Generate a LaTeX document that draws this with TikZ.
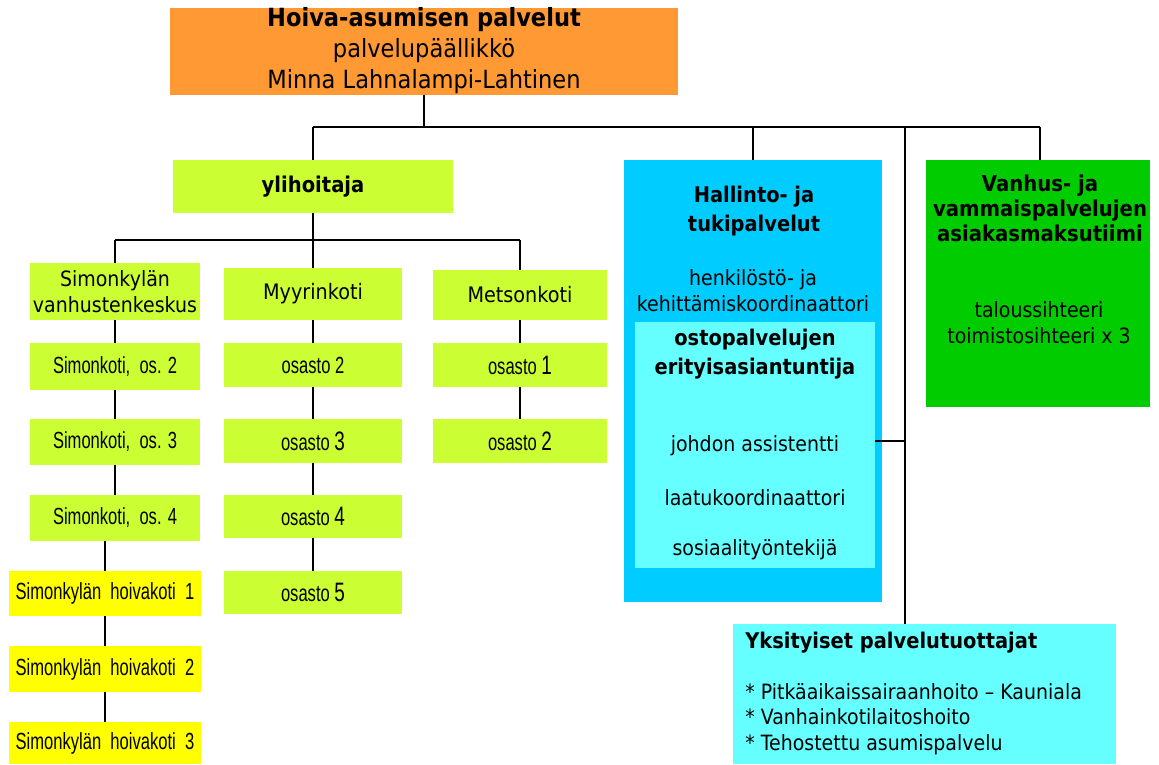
\documentclass[tikz,border=0pt]{standalone}
\usepackage{fontspec}
\newfontfamily\tah[FakeStretch=0.9]{DejaVu Sans}
\newfontfamily\nar[FakeStretch=0.71]{Liberation Sans}
\definecolor{orng}{HTML}{FF9933}
\definecolor{lime}{HTML}{CCFF33}
\definecolor{yelw}{HTML}{FFFF00}
\definecolor{sky}{HTML}{00CCFF}
\definecolor{aqua}{HTML}{66FFFF}
\definecolor{grn}{HTML}{00CC00}
\newcommand\pbox[7]{\node[#2, anchor=north west, minimum width={(#5-#3)*0.75pt}, minimum height={(#6-#4)*0.75pt}] (#1) at (#3,#4) {#7};}
\tikzset{
  bx/.style={inner sep=0pt, outer sep=0pt, draw=none, align=center},
  limebox/.style={bx, fill=lime},
  yelbox/.style={bx, fill=yelw},
  conn/.style={draw=black, line width=1.1pt},
  tx/.style={inner sep=0pt, align=center, font=\tah\fontsize{15.8}{19.5}\selectfont},
  txb/.style={tx, font=\tah\bfseries\fontsize{16.2}{21.7}\selectfont},
  nr/.style={font=\nar\fontsize{17.5}{18}\selectfont},
}
\newcommand\dg[1]{{\fontsize{20}{18}\selectfont #1}}
\begin{document}
\begin{tikzpicture}[x=0.75pt,y=-0.75pt]
\useasboundingbox (0,0) rectangle (1159,764);
% top box
\pbox{top}{bx, fill=orng}{170}{8}{678}{95}{}
\node[txb, font=\tah\bfseries\fontsize{18.8}{22}\selectfont] (t1) at (424,20) {Hoiva-asumisen palvelut};
\node[tx, font=\tah\fontsize{18.8}{22}\selectfont] (t2) at (424,51) {palvelupäällikkö};
\node[tx, font=\tah\fontsize{18.8}{22}\selectfont] (t3) at (424,82) {Minna Lahnalampi-Lahtinen};
% ylihoitaja
\pbox{yli}{limebox, font=\tah\bfseries\fontsize{16.3}{20}\selectfont}{173}{160}{453}{213}{ylihoitaja}
% row 2
\pbox{sim}{limebox, font=\tah\fontsize{15.8}{19.5}\selectfont}{30}{263}{200}{320}{Simonkylän\\vanhustenkeskus}
\pbox{myy}{limebox, font=\tah\fontsize{16}{19.5}\selectfont}{224}{268}{402}{320}{Myyrinkoti}
\pbox{met}{limebox, font=\tah\fontsize{16}{19.5}\selectfont}{433}{270}{607}{320}{Metsonkoti}
% Simonkoti column
\pbox{sk2}{limebox, nr}{30}{343}{200}{390}{Simonkoti,\ \ os. 2}
\pbox{sk3}{limebox, nr}{30}{419}{200}{465}{Simonkoti,\ \ os. 3}
\pbox{sk4}{limebox, nr}{30}{495}{200}{541}{Simonkoti,\ \ os. 4}
\pbox{hk1}{yelbox, nr}{9}{571}{201}{616}{Simonkylän\ \ hoivakoti\ \ 1}
\pbox{hk2}{yelbox, nr}{9}{646}{201}{692}{Simonkylän\ \ hoivakoti\ \ 2}
\pbox{hk3}{yelbox, nr}{9}{722}{201}{764}{Simonkylän\ \ hoivakoti\ \ 3}
% Myyrinkoti column
\pbox{my2}{limebox, nr}{224}{343}{402}{387}{osasto 2}
\pbox{my3}{limebox, nr}{224}{419}{402}{463}{osasto \dg{3}}
\pbox{my4}{limebox, nr}{224}{495}{402}{538}{osasto \dg{4}}
\pbox{my5}{limebox, nr}{224}{571}{402}{614}{osasto \dg{5}}
% Metsonkoti column
\pbox{me1}{limebox, nr}{433}{343}{607}{387}{osasto \dg{1}}
\pbox{me2}{limebox, nr}{433}{419}{607}{463}{osasto \dg{2}}
% Hallinto
\pbox{hal}{bx, fill=sky}{624}{160}{882}{602}{}
\pbox{inn}{bx, fill=aqua}{635}{322}{875}{568}{}
\node[txb] (h1) at (754,211) {Hallinto- ja\\tukipalvelut};
\node[tx] (h2) at (753,291) {henkilöstö- ja\\kehittämiskoordinaattori};
\node[txb] (h3) at (755,354) {ostopalvelujen\\erityisasiantuntija};
\node[tx] (h4) at (755,446) {johdon assistentti};
\node[tx] (h5) at (755,498) {laatukoordinaattori};
\node[tx] (h6) at (755,550) {sosiaalityöntekijä};
% green
\pbox{grnb}{bx, fill=grn}{926}{160}{1150}{407}{}
\node[txb, font=\tah\bfseries\fontsize{16.4}{18.8}\selectfont] (g1) at (1040,208) {Vanhus- ja\\vammaispalvelujen\\asiakasmaksutiimi};
\node[tx] (g2) at (1039,323) {taloussihteeri\\toimistosihteeri x 3};
% Yksityiset
\pbox{yks}{bx, fill=aqua}{733}{624}{1116}{764}{}
\node[txb, anchor=west] (y1) at (745,643) {Yksityiset palvelutuottajat};
\node[tx, anchor=north west, align=left, font=\tah\fontsize{15.8}{19.2}\selectfont] (y2) at (745,683) {* Pitkäaikaissairaanhoito – Kauniala\\* Vanhainkotilaitoshoito\\* Tehostettu asumispalvelu};
% connectors
\coordinate (ja) at (424,127);
\coordinate (hl) at (313,127);
\coordinate (hr) at (1040,127);
\coordinate (vx) at (905,127);
\coordinate (vy) at (905,624);
\coordinate (vm) at (905,441);
\draw[conn] (top.south) -- (ja);
\draw[conn] (hl) -- (hr);
\draw[conn] (hl) -- (yli.north);
\draw[conn] (hal.north |- hl) -- (hal.north);
\draw[conn] (hr) -- (hr |- grnb.north);
\draw[conn] (vx) -- (vy);
\draw[conn] (inn.east |- vm) -- (vm);
\coordinate (jb) at (313,240);
\coordinate (bl) at (115,240);
\coordinate (br) at (520,240);
\draw[conn] (yli.south) -- (jb);
\draw[conn] (bl) -- (br);
\draw[conn] (bl) -- (sim.north);
\draw[conn] (jb) -- (myy.north);
\draw[conn] (br) -- (met.north);
\draw[conn] (sim.south) -- (sk2.north);
\draw[conn] (sk2.south) -- (sk3.north);
\draw[conn] (sk3.south) -- (sk4.north);
\draw[conn] (hk1.north |- sk4.south) -- (hk1.north);
\draw[conn] (hk1.south) -- (hk2.north);
\draw[conn] (hk2.south) -- (hk3.north);
\draw[conn] (myy.south) -- (my2.north);
\draw[conn] (my2.south) -- (my3.north);
\draw[conn] (my3.south) -- (my4.north);
\draw[conn] (my4.south) -- (my5.north);
\draw[conn] (met.south) -- (me1.north);
\draw[conn] (me1.south) -- (me2.north);
\end{tikzpicture}
\end{document}
